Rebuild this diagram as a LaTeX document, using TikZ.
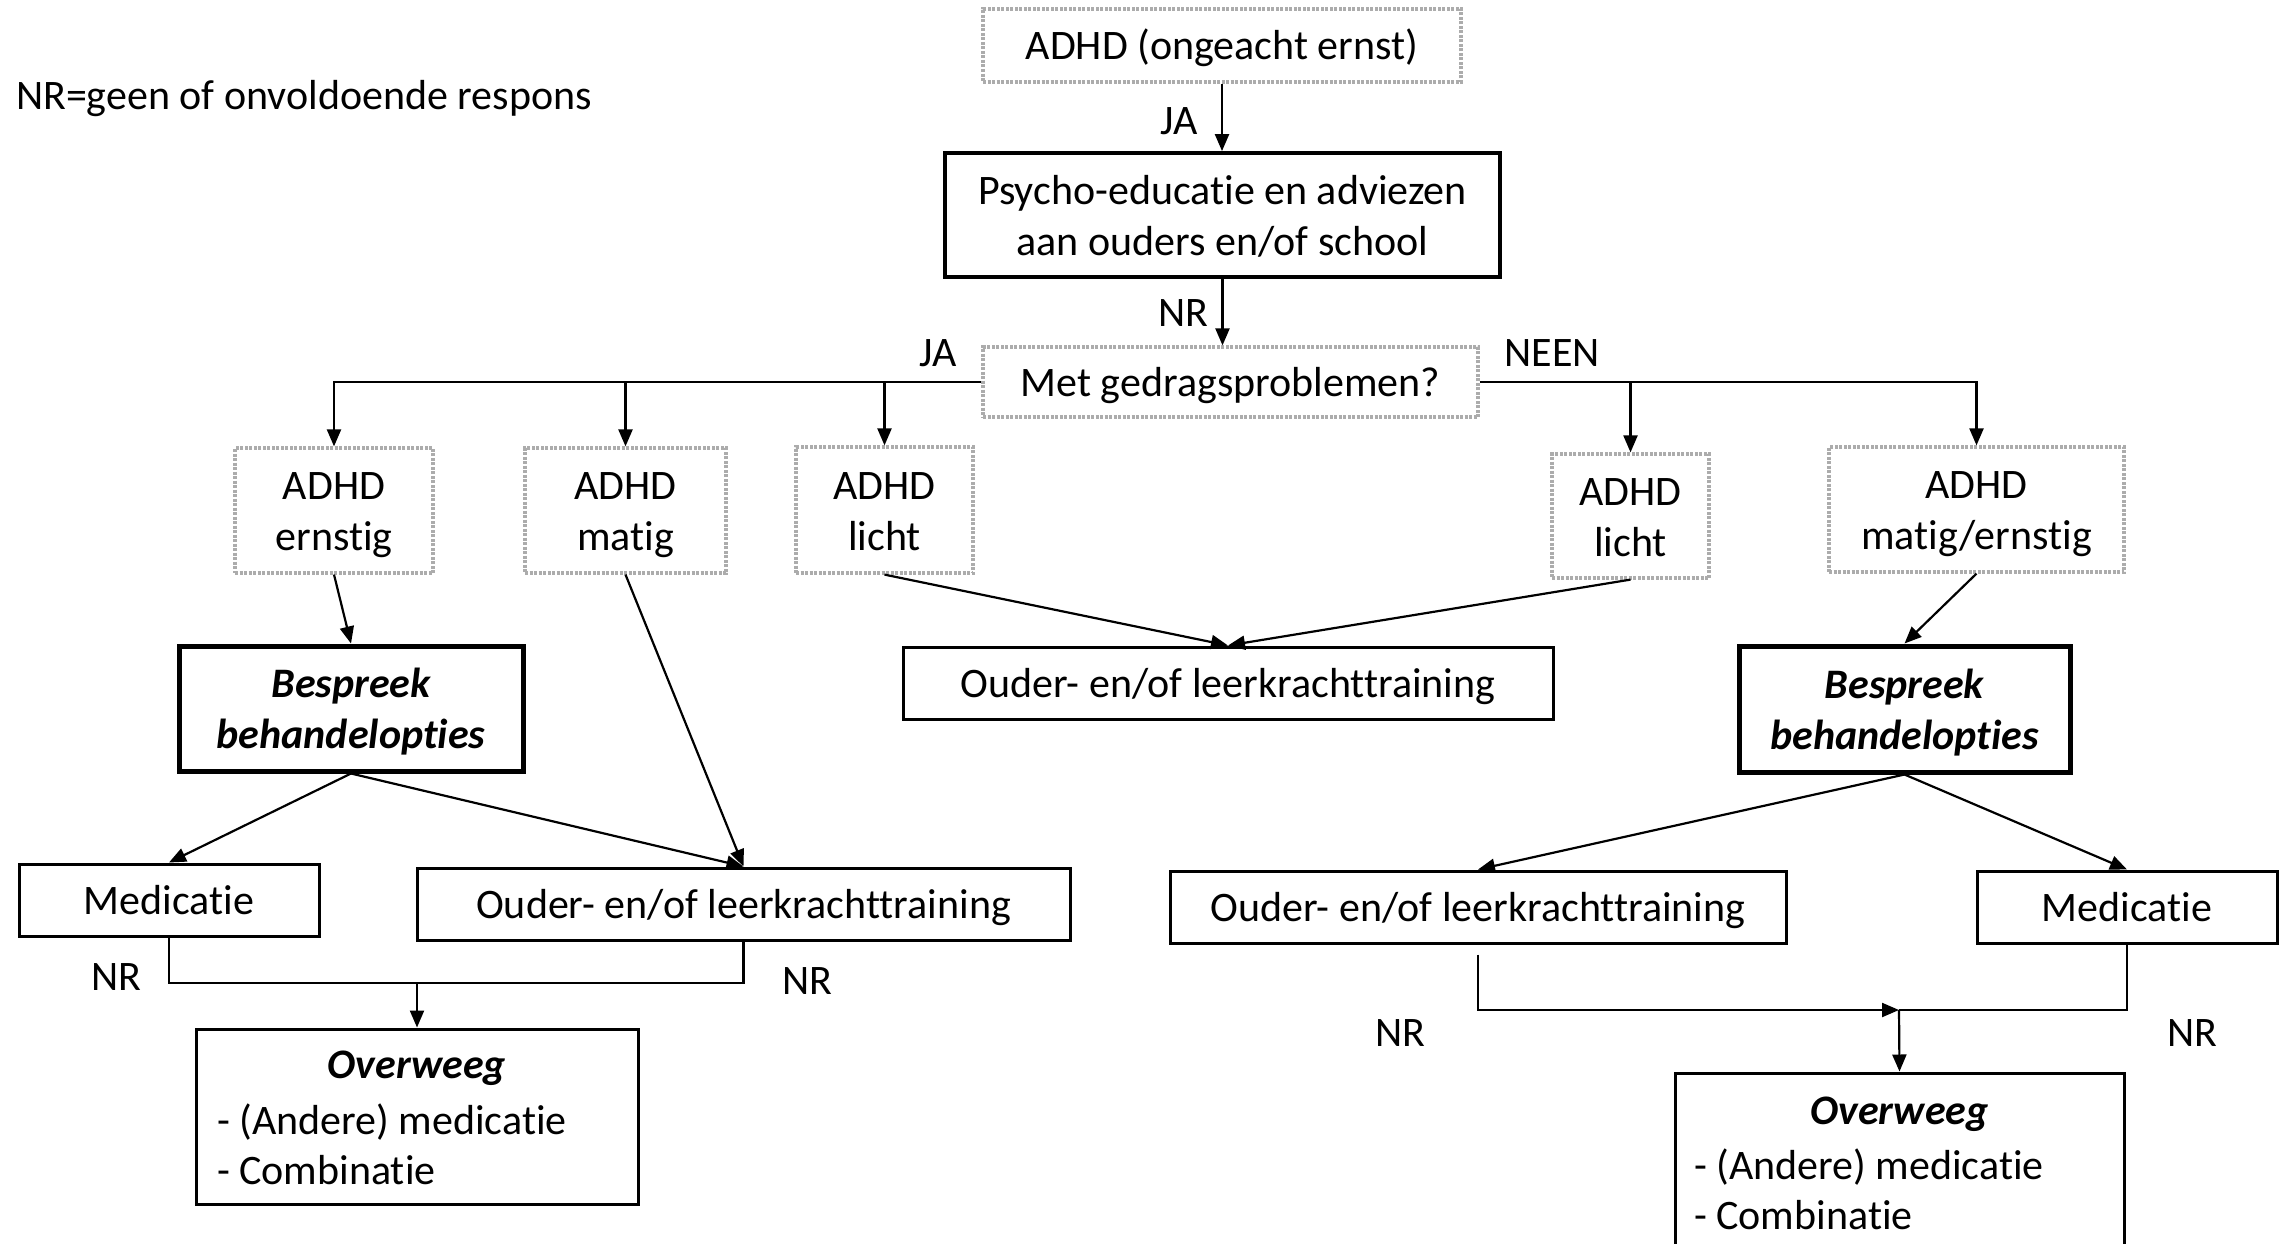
\documentclass[tikz,border=0pt]{standalone}
\usepackage{fontspec}
\setmainfont{Carlito}[Ligatures=NoCommon]
\usetikzlibrary{arrows.meta}
\begin{document}
\begin{tikzpicture}[x=1pt,y=-1pt,
  font=\fontsize{42}{51}\selectfont,
  line width=2.2pt,
  arr/.style={-{Triangle[length=17pt,width=14pt]}},
  dotbox/.style={draw=gray!65, dash pattern=on 3pt off 1.5pt, line width=3.2pt, inner sep=0pt, align=center},
  plainbox/.style={draw, line width=3pt, inner sep=0pt, align=center},
  boldbox/.style={draw, line width=3.8pt, inner sep=0pt, align=center},
  heavybox/.style={draw, line width=5pt, inner sep=0pt, align=center, font=\fontsize{42}{51}\selectfont\bfseries\itshape},
  oneline/.style={text height=34pt, text depth=5pt},
  twoline/.style={text height=85pt, text depth=5pt},
  lbl/.style={inner sep=0pt},
  ttl/.style={inner sep=0pt, font=\fontsize{42}{50}\selectfont\bfseries\itshape},
  lst/.style={inner sep=0pt, align=left, anchor=west, font=\fontsize{42}{50}\selectfont}]
\path[use as bounding box, clip] (0,0) rectangle (2285,1244);
\fill[white] (0,0) rectangle (2285,1244);

% legend
\node[lbl, anchor=west] (legend) at (15,99) {NR=geen of onvoldoende respons};

% top part
\node[dotbox, oneline, minimum width=478, minimum height=73] (top) at (1222,45.5) {ADHD (ongeacht ernst)};
\node[boldbox, twoline, minimum width=555, minimum height=124] (psycho) at (1222.5,215) {Psycho-educatie en adviezen\\aan ouders en/of school};
\node[dotbox, oneline, minimum width=495, minimum height=70] (met) at (1230.5,382) {Met gedragsproblemen?};

% severity boxes
\node[dotbox, twoline, minimum width=198, minimum height=125] (ernstig) at (334,510.5) {ADHD\\ernstig};
\node[dotbox, twoline, minimum width=201, minimum height=125] (matig) at (625.5,510.5) {ADHD\\matig};
\node[dotbox, twoline, minimum width=177, minimum height=126] (lichtL) at (884.5,510) {ADHD\\licht};
\node[dotbox, twoline, minimum width=157, minimum height=124] (lichtR) at (1630.5,516) {ADHD\\licht};
\node[dotbox, twoline, minimum width=295, minimum height=125] (mer) at (1976.5,509.5) {ADHD\\matig/ernstig};

% middle row
\node[heavybox, twoline, minimum width=344, minimum height=125] (bespL) at (351,708.5) {Bespreek\\behandelopties};
\node[plainbox, oneline, minimum width=650, minimum height=72] (ouderC) at (1228,683) {Ouder- en/of leerkrachttraining};
\node[heavybox, twoline, minimum width=331, minimum height=126] (bespR) at (1904.5,709) {Bespreek\\behandelopties};

% treatment row
\node[plainbox, oneline, minimum width=300, minimum height=72] (medL) at (169,900) {Medicatie};
\node[plainbox, oneline, minimum width=653, minimum height=72] (ouderL) at (743.5,904) {Ouder- en/of leerkrachttraining};
\node[plainbox, oneline, minimum width=616, minimum height=72] (ouderR) at (1478,907) {Ouder- en/of leerkrachttraining};
\node[plainbox, oneline, minimum width=300, minimum height=72] (medR) at (2127,907) {Medicatie};

% overweeg boxes
\node[plainbox, minimum width=442, minimum height=175] (overL) at (417,1116.5) {};
\node[ttl] (overLt) at (417,1068) {Overweeg};
\node[lst] (overLl) at (216,1144) {- (Andere) medicatie\\- Combinatie};
\node[plainbox, minimum width=449, minimum height=175] (overR) at (1899.5,1160.5) {};
\node[ttl] (overRt) at (1899.5,1114) {Overweeg};
\node[lst] (overRl) at (1693,1189) {- (Andere) medicatie\\- Combinatie};

% labels
\node[lbl] (lja1) at (1179,121) {JA};
\node[lbl] (lnr1) at (1183,313) {NR};
\node[lbl] (lja2) at (938,353) {JA};
\node[lbl] (lneen) at (1552,353) {NEEN};
\node[lbl] (lnr2) at (116,977) {NR};
\node[lbl] (lnr3) at (807,981) {NR};
\node[lbl] (lnr4) at (1400,1033) {NR};
\node[lbl] (lnr5) at (2192,1033) {NR};

% connectors
\draw[arr] (top.south) -- (top.south |- psycho.north);
\draw[arr] (psycho.south) -- (psycho.south |- met.north);
\draw[arr] (met.west) -| (ernstig.north);
\draw[arr] (matig.north |- met.west) -- (matig.north);
\draw[arr] (lichtL.north |- met.west) -- (lichtL.north);
\draw[arr] (met.east) -| (mer.north);
\draw[arr] (lichtR.north |- met.east) -- (lichtR.north);
\draw[arr] (ernstig.south) -- (bespL.north);
\draw[arr] (matig.south) -- (ouderL.north);
\draw[arr] (lichtL.south) -- (ouderC.north);
\draw[arr] (lichtR.south) -- (ouderC.north);
\draw[arr] (mer.south) -- (bespR.north);
\draw[arr] (bespL.south) -- (medL.north);
\draw[arr] (bespL.south) -- (ouderL.north);
\draw[arr] (bespR.south) -- (ouderR.north);
\draw[arr] (bespR.south) -- (medR.north);
\coordinate (jL) at (417,983);
\draw (medL.south) |- (jL);
\draw (ouderL.south) |- (jL);
\draw[arr] (jL) -- (overL.north);
\coordinate (jR) at (1899,1010);
\draw[arr, shorten <=10pt] (ouderR.south) |- (jR);
\draw (medR.south) |- (jR);
\draw[arr] (jR) -- (overR.north);
\end{tikzpicture}
\end{document}
